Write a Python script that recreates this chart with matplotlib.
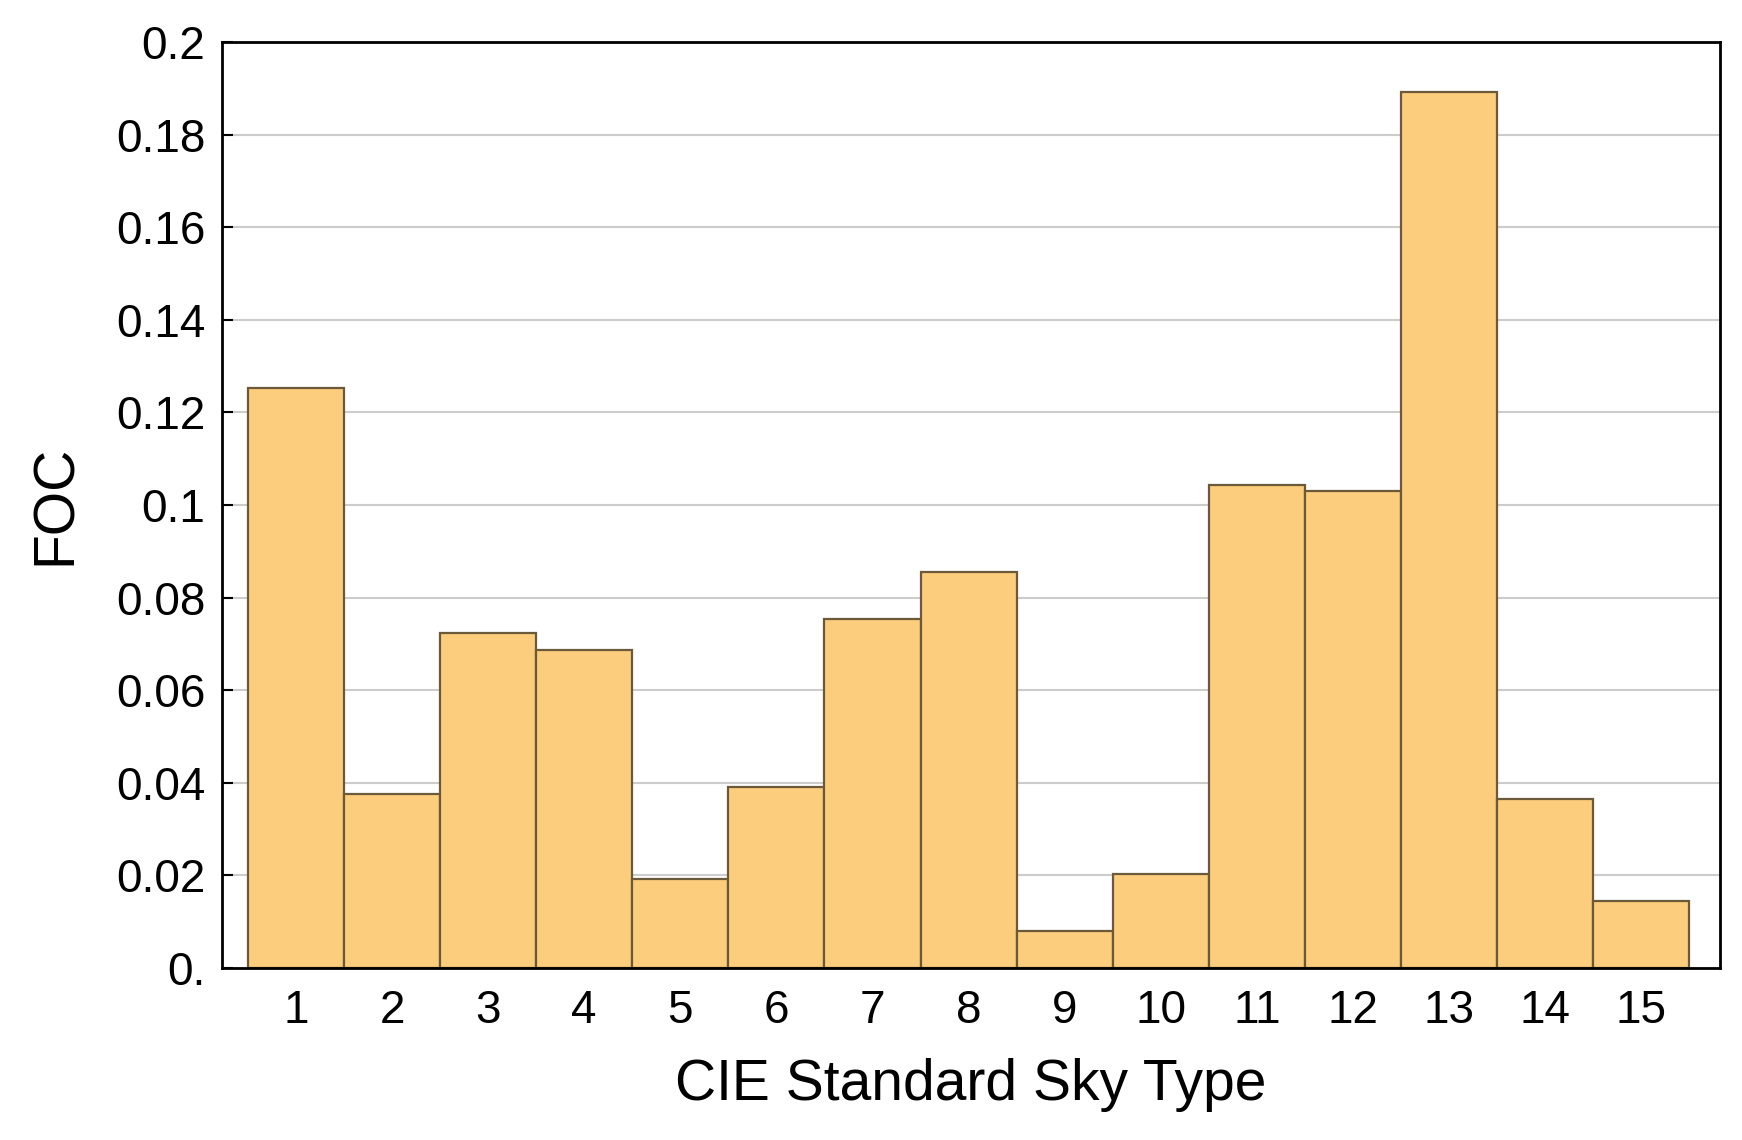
import numpy as np
import matplotlib
matplotlib.use("Agg")
import matplotlib.pyplot as plt

# Frecuencia de ocurrencia por tipo de cielo CIE
sky_types = list(range(1, 16))
foc = [0.1253, 0.0375, 0.0723, 0.0687, 0.0192, 0.0391, 0.0754, 0.0855,
       0.0079, 0.0202, 0.1044, 0.1030, 0.1892, 0.0365, 0.0144]
y_ticks = [0.0, 0.02, 0.04, 0.06, 0.08, 0.1, 0.12, 0.14, 0.16, 0.18, 0.2]
y_labels = ["0.", "0.02", "0.04", "0.06", "0.08", "0.1", "0.12", "0.14",
            "0.16", "0.18", "0.2"]

plt.rcParams['font.family'] = ['Liberation Sans', 'DejaVu Sans']

fig = plt.figure(figsize=(17.42, 11.40), dpi=100)
ax = fig.add_axes([0.1274, 0.1509, 0.86, 0.8123])

ax.bar(sky_types, foc, width=1.0, color='#fbcd7d', edgecolor='#6b5a3a',
       linewidth=1.6, zorder=2)

ax.set_xlim(0.23, 15.82)
ax.set_ylim(0, 0.2)
ax.set_xticks(sky_types)
ax.set_yticks(y_ticks)
ax.set_yticklabels(y_labels)
ax.yaxis.grid(True, color='#cccccc', linewidth=1.5, zorder=0)
ax.set_axisbelow(True)

ax.tick_params(axis='x', direction='in', length=12, width=1.5,
               labelsize=33, pad=15)
ax.tick_params(axis='y', direction='in', length=8, width=1.5,
               labelsize=33, pad=12)
for s in ax.spines.values():
    s.set_linewidth(2)

ax.set_xlabel('CIE Standard Sky Type', fontsize=41, labelpad=18)
ax.set_ylabel('FOC', fontsize=41, labelpad=24)

fig.savefig('out.png', dpi=100)
